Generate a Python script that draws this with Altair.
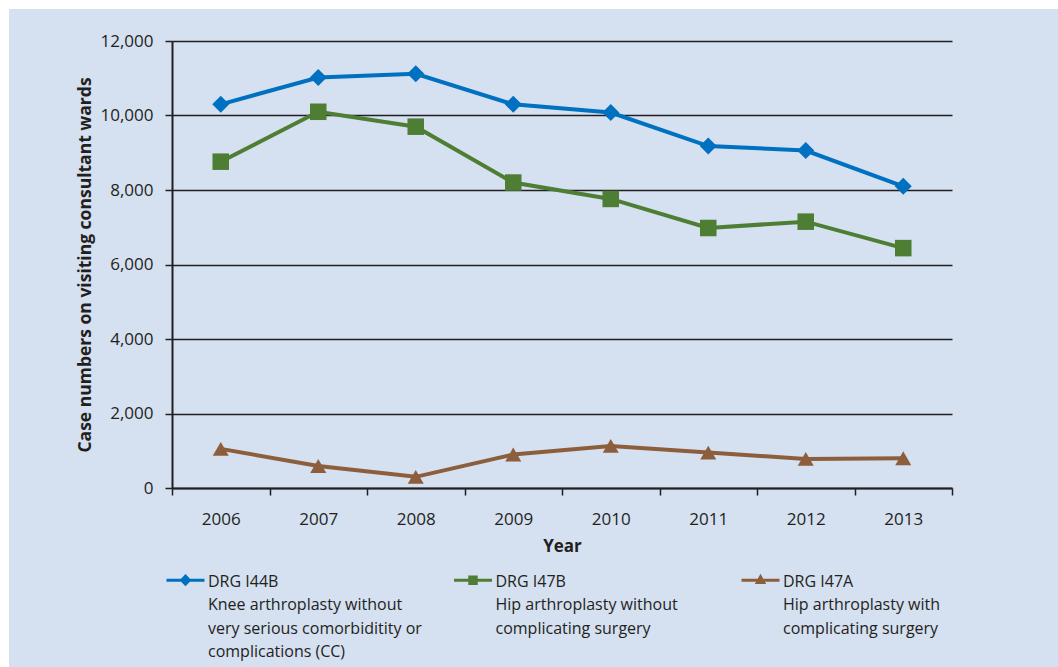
import altair as alt
import pandas as pd

# Case numbers per year for three DRG groups
years = ["2006", "2007", "2008", "2009", "2010", "2011", "2012", "2013"]
drg_i44b = [10300, 11020, 11120, 10300, 10080, 9180, 9060, 8100]
drg_i47b = [8760, 10100, 9700, 8200, 7760, 6980, 7150, 6440]
drg_i47a = [1050, 590, 300, 900, 1130, 950, 780, 800]

# Legend entries: code and description, lines split at "|"
# (shorter entries padded to four lines so the entries share one top edge)
series_names = [
    "DRG I44B|Knee arthroplasty without|very serious comorbiditity or|complications (CC)",
    "DRG I47B|Hip arthroplasty without|complicating surgery| ",
    "DRG I47A|Hip arthroplasty with|complicating surgery| ",
]
series_values = [drg_i44b, drg_i47b, drg_i47a]
series_colors = ["#0070C0", "#4E7D34", "#8C5E3B"]
series_shapes = ["diamond", "square", "triangle-up"]
series_sizes = [290, 256, 230]

# Legend glyphs: a short bar with the series marker on it (all clockwise, filled),
# dropped a little so they sit level with the first label line
legend_glyphs = [
    "M-2,0.54H2V0.86H-2ZM0,0.05L0.62,0.7L0,1.35L-0.62,0.7Z",
    "M-2,0.54H2V0.86H-2ZM-0.5,0.2H0.5V1.2H-0.5Z",
    "M-2,0.54H2V0.86H-2ZM0,0.02L0.6,1.1H-0.6Z",
]

rows = []
for name, vals in zip(series_names, series_values):
    for yr, v in zip(years, vals):
        rows.append({"year": yr, "cases": v, "series": name})
df = pd.DataFrame(rows)

W, H = 780, 447
PAD = {"left": 172, "top": 41, "right": 106, "bottom": 179}
FONT = "Open Sans"
INK = "#231F20"
BG = "#D5E0F0"

x_enc = alt.X(
    "year:O",
    bandPosition=0.5,
    scale=alt.Scale(type="band", paddingInner=0, paddingOuter=0),
    axis=alt.Axis(
        title="Year",
        labelAngle=0,
        tickBand="extent",
        tickSize=7,
        tickWidth=1.5,
        tickColor=INK,
        domainColor=INK,
        domainWidth=2,
        labelPadding=16,
        titlePadding=11,
        grid=False,
    ),
)
y_enc = alt.Y(
    "cases:Q",
    scale=alt.Scale(domain=[0, 12000], nice=False),
    axis=alt.Axis(
        title="Case numbers on visiting consultant wards",
        values=list(range(0, 12001, 2000)),
        format=",.0f",
        grid=True,
        gridColor=INK,
        gridWidth=1.3,
        tickSize=7,
        tickWidth=1.5,
        tickColor=INK,
        domainColor=INK,
        domainWidth=2,
        labelPadding=12,
        titlePadding=5,
        titleFontSize=17.5,
    ),
)

base = alt.Chart(df)

lines = base.mark_line(strokeWidth=4).encode(
    x=x_enc,
    y=y_enc,
    color=alt.Color(
        "series:N",
        scale=alt.Scale(domain=series_names, range=series_colors),
        legend=None,
    ),
)

points = base.mark_point(filled=True, opacity=1).encode(
    x=alt.X("year:O", bandPosition=0.5),
    y="cases:Q",
    color=alt.Color(
        "series:N",
        scale=alt.Scale(domain=series_names, range=series_colors),
        legend=None,
    ),
    shape=alt.Shape(
        "series:N",
        scale=alt.Scale(domain=series_names, range=series_shapes),
        legend=None,
    ),
    size=alt.Size(
        "series:N",
        scale=alt.Scale(domain=series_names, range=series_sizes),
        legend=None,
    ),
)

# Legend-only layer: no rows drawn, the legend comes from the explicit scale domains
legend_kw = dict(
    title=None,
    orient="none",
    legendX=4,
    legendY=523,
    direction="horizontal",
    columns=3,
    gridAlign="all",
    columnPadding=31.5,
    symbolSize=361,
    symbolStrokeWidth=0,
    symbolOpacity=1,
    labelOffset=13,
    labelLimit=400,
    labelFontSize=16,
    labelFont=FONT,
    labelColor=INK,
    labelExpr="split(datum.label, '|')",
    labelBaseline="top",
)
legend_layer = (
    base.transform_filter("false")
    .mark_point(filled=True, opacity=1)
    .encode(
        x=alt.X("year:O", bandPosition=0.5),
        y="cases:Q",
        color=alt.Color(
            "series:N",
            scale=alt.Scale(domain=series_names, range=series_colors),
            legend=alt.Legend(**legend_kw),
        ),
        shape=alt.Shape(
            "series:N",
            scale=alt.Scale(domain=series_names, range=legend_glyphs),
            legend=alt.Legend(**legend_kw),
        ),
    )
)

# White page margin along the top and left edges of the panel
edge = pd.DataFrame({"k": [0]})
top_strip = alt.Chart(edge).mark_rect(color="white").encode(
    x=alt.value(-PAD["left"]),
    x2=alt.value(W + PAD["right"]),
    y=alt.value(-PAD["top"]),
    y2=alt.value(-PAD["top"] + 9),
)
left_strip = alt.Chart(edge).mark_rect(color="white").encode(
    x=alt.value(-PAD["left"]),
    x2=alt.value(-PAD["left"] + 9),
    y=alt.value(-PAD["top"]),
    y2=alt.value(H + PAD["bottom"]),
)

chart = (
    alt.layer(top_strip, left_strip, lines, points, legend_layer)
    .resolve_scale(color="independent", shape="independent", size="independent")
    .properties(
        width=W,
        height=H,
        autosize=alt.AutoSizeParams(type="none"),
        padding=PAD,
        background=BG,
    )
    .configure(
        view={"stroke": None},
        axis={
            "labelFont": FONT,
            "labelFontSize": 17,
            "labelColor": INK,
            "titleFont": FONT,
            "titleFontSize": 17,
            "titleFontWeight": "bold",
            "titleColor": INK,
        },
        style={"guide-label": {"lineHeight": 23.5}},
    )
)

chart.save("out.html", embed_options={"renderer": "svg", "actions": False})
